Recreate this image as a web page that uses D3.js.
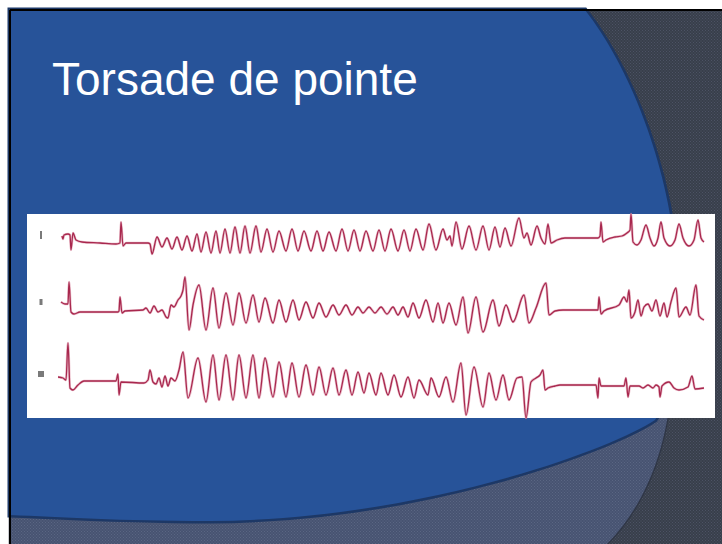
<!DOCTYPE html>
<html><head><meta charset="utf-8">
<script src="https://cdn.jsdelivr.net/npm/d3@7"></script>
<style>html,body{margin:0;padding:0;background:#fff;}svg{display:block;}</style>
</head><body>
<script>
// ---- data: three ECG leads, [time (s), amplitude (mV)] ----
const slideTitle = "Torsade de pointe";
const leadNames = ["I", "II", "III"];
const leadI = [[0.08,0.7],[0.10,0.4],[0.12,0.8],[0.20,0.9],[0.24,0.8],[0.26,-0.7],[0.30,1.0],[0.36,0.3],[0.48,0.1],[0.84,0],[1.16,-0.1],[1.24,0],[1.26,2.1],[1.30,-0.3],[1.36,0],[1.80,0],[1.84,-0.1],[1.88,-1.1],[1.98,0.6],[2.08,-0.4],[2.18,0.5],[2.28,-0.6],[2.38,0.6],[2.48,-0.7],[2.58,0.7],[2.68,-0.8],[2.78,0.9],[2.86,-0.9],[2.96,1.1],[3.06,-1.0],[3.16,1.2],[3.24,-1.0],[3.34,1.4],[3.44,-1.0],[3.54,1.6],[3.64,-1.0],[3.74,1.7],[3.84,-1.0],[3.96,1.7],[4.06,-0.9],[4.18,1.4],[4.30,-0.9],[4.42,1.2],[4.56,-0.8],[4.68,1.4],[4.80,-0.8],[4.92,1.2],[5.06,-0.8],[5.18,1.2],[5.30,-0.8],[5.42,1.1],[5.56,-0.8],[5.68,1.4],[5.80,-0.8],[5.92,1.3],[6.04,-0.8],[6.16,1.2],[6.30,-0.8],[6.42,1.3],[6.54,-0.8],[6.66,1.4],[6.80,-0.8],[6.92,1.3],[7.04,-0.8],[7.16,1.4],[7.30,-0.7],[7.42,1.9],[7.56,-0.7],[7.70,1.4],[7.78,0.3],[7.84,0.7],[7.88,-0.3],[7.96,2.1],[8.08,-0.6],[8.22,1.7],[8.36,-0.7],[8.50,1.7],[8.62,-0.7],[8.74,1.6],[8.84,-0.4],[8.94,1.5],[9.06,-0.3],[9.22,2.5],[9.32,0.5],[9.38,1.0],[9.46,-0.2],[9.58,1.7],[9.66,0.5],[9.74,-0.1],[9.80,1.9],[9.86,0],[9.98,0.3],[10.14,0.5],[10.80,0.5],[10.84,0.7],[10.86,2.1],[10.90,0.1],[10.96,0.3],[11.14,0.6],[11.28,0.7],[11.38,1.0],[11.44,1.3],[11.46,2.9],[11.50,0.1],[11.58,-0.2],[11.66,0.3],[11.76,1.8],[11.84,0.5],[11.92,-0.3],[12.00,0.5],[12.06,2.1],[12.12,0.5],[12.24,-0.3],[12.34,0.3],[12.42,1.9],[12.50,0.5],[12.62,-0.3],[12.72,0.3],[12.80,2.3],[12.86,0.5],[12.92,0.1]];
const leadII = [[0.06,0.8],[0.14,0.6],[0.20,0.6],[0.22,2.8],[0.26,-0.2],[0.32,-0.4],[0.44,-0.2],[0.84,-0.2],[1.20,-0.2],[1.22,-0.1],[1.24,1.3],[1.28,-0.3],[1.34,-0.1],[1.70,0],[1.76,0.2],[1.84,-0.3],[1.92,0.4],[2.00,-0.2],[2.08,0],[2.16,-0.7],[2.20,-0.8],[2.26,0.5],[2.32,0.3],[2.40,1.0],[2.46,1.4],[2.50,2.0],[2.54,3.3],[2.62,-2.0],[2.70,0.5],[2.82,2.5],[2.96,-2.0],[3.10,2.2],[3.22,-1.8],[3.36,1.7],[3.50,-1.5],[3.62,1.7],[3.76,-1.3],[3.90,1.5],[4.02,-1.2],[4.14,1.2],[4.30,-1.3],[4.42,1.0],[4.56,-1.2],[4.70,1.0],[4.82,-1.0],[4.96,0.8],[5.10,-0.8],[5.22,0.7],[5.36,-0.7],[5.50,0.5],[5.62,-0.5],[5.76,0.5],[5.88,-0.5],[6.00,0.3],[6.10,-0.3],[6.22,0.3],[6.34,-0.3],[6.46,0.3],[6.58,-0.4],[6.70,0.3],[6.80,-0.5],[6.90,0.3],[7.00,-0.7],[7.10,0.7],[7.22,-0.8],[7.36,1.0],[7.50,-1.2],[7.60,0.7],[7.70,-1.3],[7.82,0.7],[7.96,-1.5],[8.10,1.3],[8.20,-2.3],[8.36,1.3],[8.50,-2.2],[8.70,1.0],[8.82,-1.6],[8.96,0.5],[9.10,-1.2],[9.32,1.5],[9.42,-1.3],[9.56,0.2],[9.76,2.7],[9.82,-0.5],[9.94,-0.1],[10.10,0],[10.80,0],[10.82,1.3],[10.86,-0.4],[10.92,-0.1],[11.22,0.5],[11.32,1.3],[11.38,0.8],[11.42,2.0],[11.46,-0.8],[11.54,-0.2],[11.60,1.0],[11.66,-0.6],[11.72,0.3],[11.80,0.6],[11.88,-0.1],[11.96,1.0],[12.04,-0.6],[12.12,0.7],[12.18,-0.7],[12.26,0.8],[12.36,2.2],[12.42,-0.7],[12.56,0.3],[12.64,-0.5],[12.76,2.5],[12.82,-0.6],[12.92,-1.0]];
const leadIII = [[0.00,0.5],[0.10,0.4],[0.16,0.2],[0.20,3.9],[0.24,-0.6],[0.30,-0.8],[0.40,-0.3],[0.52,0.1],[1.16,0.1],[1.20,0.8],[1.22,-1.3],[1.26,0],[1.72,-0.1],[1.80,0.2],[1.84,1.2],[1.90,0],[1.96,-0.2],[2.02,0.4],[2.08,-0.5],[2.14,0.6],[2.20,-0.4],[2.26,0.4],[2.34,0.1],[2.42,1.2],[2.50,3.0],[2.60,-1.6],[2.80,2.4],[2.96,-2.0],[3.10,2.7],[3.22,-1.8],[3.36,2.7],[3.50,-1.8],[3.62,2.7],[3.76,-1.6],[3.90,2.7],[4.02,-1.6],[4.14,2.4],[4.30,-1.5],[4.42,2.0],[4.56,-1.5],[4.68,1.9],[4.82,-1.5],[4.96,1.7],[5.10,-1.3],[5.22,1.5],[5.36,-1.3],[5.50,1.4],[5.62,-1.3],[5.76,1.2],[5.88,-1.3],[6.00,1.0],[6.12,-1.1],[6.22,0.9],[6.36,-1.3],[6.46,0.9],[6.60,-1.3],[6.72,0.7],[6.86,-1.5],[7.00,0.5],[7.12,-1.6],[7.22,0.2],[7.40,-1.3],[7.46,0.4],[7.62,-1.5],[7.76,0.5],[7.90,-2.0],[8.06,1.9],[8.16,-3.3],[8.32,1.5],[8.50,-2.5],[8.62,0.9],[8.76,-1.8],[8.90,0.7],[9.02,-1.8],[9.18,0.4],[9.28,0.5],[9.36,-3.6],[9.46,0],[9.56,0.4],[9.64,0.7],[9.70,1.2],[9.74,-0.8],[9.80,-0.6],[9.94,-0.4],[10.04,-0.3],[10.76,-0.3],[10.80,-1.6],[10.82,0.4],[10.86,-0.4],[11.32,-0.4],[11.36,0.4],[11.40,-1.5],[11.44,-0.4],[11.62,-0.4],[11.70,-0.6],[11.80,-0.3],[11.90,-0.6],[11.96,-0.3],[12.02,-0.5],[12.04,-1.5],[12.08,-0.4],[12.22,0],[12.32,-0.6],[12.42,-0.8],[12.60,-0.5],[12.68,0.6],[12.74,-0.7],[12.92,-0.6]];
const leads = [leadI, leadII, leadIII];
const timeDomain = [0, 13];

// ---- layout ----
const W = 722, H = 544;
const svg = d3.select("body").append("svg").attr("width", W).attr("height", H);
const defs = svg.append("defs");

function texture(id, c1, c2) {
  const p = defs.append("pattern").attr("id", id).attr("width", 3).attr("height", 3)
    .attr("patternUnits", "userSpaceOnUse");
  p.append("rect").attr("width", 3).attr("height", 3).attr("fill", c1);
  p.append("rect").attr("x", 0).attr("y", 0).attr("width", 1).attr("height", 1).attr("fill", c2);
  p.append("rect").attr("x", 1.5).attr("y", 1.5).attr("width", 1).attr("height", 1).attr("fill", c2);
}
texture("darkTex", "#383e4b", "#4c5364");
texture("lightTex", "#475371", "#5a6683");

svg.append("rect").attr("width", W).attr("height", H).attr("fill", "#fff");
svg.append("rect").attr("x", 10).attr("y", 10).attr("width", W - 10).attr("height", H - 10).attr("fill", "url(#darkTex)");
const lightPath = "M10,380 L672,380 C668,440 650,500 607,544 L10,544 Z";
svg.append("path").attr("d", lightPath).attr("fill", "url(#lightTex)")
  .attr("stroke", "#2f3646").attr("stroke-width", 2.5);
svg.append("path").attr("d", lightPath).attr("fill", "url(#lightTex)");
const bluePath = "M10,10 L585,10 C640,80 685,210 676,320 C672,380 666,405 655,420 C610,450 420,520 210,521 C120,521 60,517 10,515 Z";
svg.append("path").attr("d", bluePath).attr("fill", "none").attr("stroke", "#1d3866").attr("stroke-width", 5);
svg.append("path").attr("d", bluePath).attr("fill", "#275399");
svg.append("line").attr("x1", 10).attr("y1", 10).attr("x2", W).attr("y2", 10).attr("stroke", "#000").attr("stroke-width", 2);
svg.append("line").attr("x1", 10).attr("y1", 10).attr("x2", 10).attr("y2", H).attr("stroke", "#000").attr("stroke-width", 2);

svg.append("text").attr("x", 52).attr("y", 95).text(slideTitle)
  .attr("fill", "#fff").attr("font-family", "'Liberation Sans', Arial, sans-serif").attr("font-size", 46);

const box = {x: 27, y: 214, w: 688, h: 204};
svg.append("rect").attr("x", box.x).attr("y", box.y).attr("width", box.w).attr("height", box.h).attr("fill", "#fff");

const x = d3.scaleLinear().domain(timeDomain).range([58, 708]);
const baselines = [243, 310, 382];
const markerSizes = [[2, 8], [3, 6], [6, 6]];
const g = svg.append("g");
leads.forEach((data, i) => {
  const y = d3.scaleLinear().domain([-1, 1]).range([baselines[i] + 10, baselines[i] - 10]);
  const line = d3.line().x(d => x(d[0])).y(d => y(d[1])).curve(d3.curveMonotoneX);
  g.append("path").datum(data).attr("d", line).attr("fill", "none")
    .attr("stroke", "#e2a3b5").attr("stroke-width", 2.6).attr("stroke-linejoin", "round").attr("opacity", 0.7);
  g.append("path").datum(data).attr("d", line).attr("fill", "none")
    .attr("stroke", "#a8284e").attr("stroke-width", 1.3).attr("stroke-linejoin", "round");
  const [mw, mh] = markerSizes[i];
  g.append("rect").attr("x", 41 - mw / 2).attr("y", baselines[i] - 8 - mh / 2)
    .attr("width", mw).attr("height", mh).attr("fill", "#7a7a7a")
    .append("title").text(leadNames[i]);
});
</script>
</body></html>
